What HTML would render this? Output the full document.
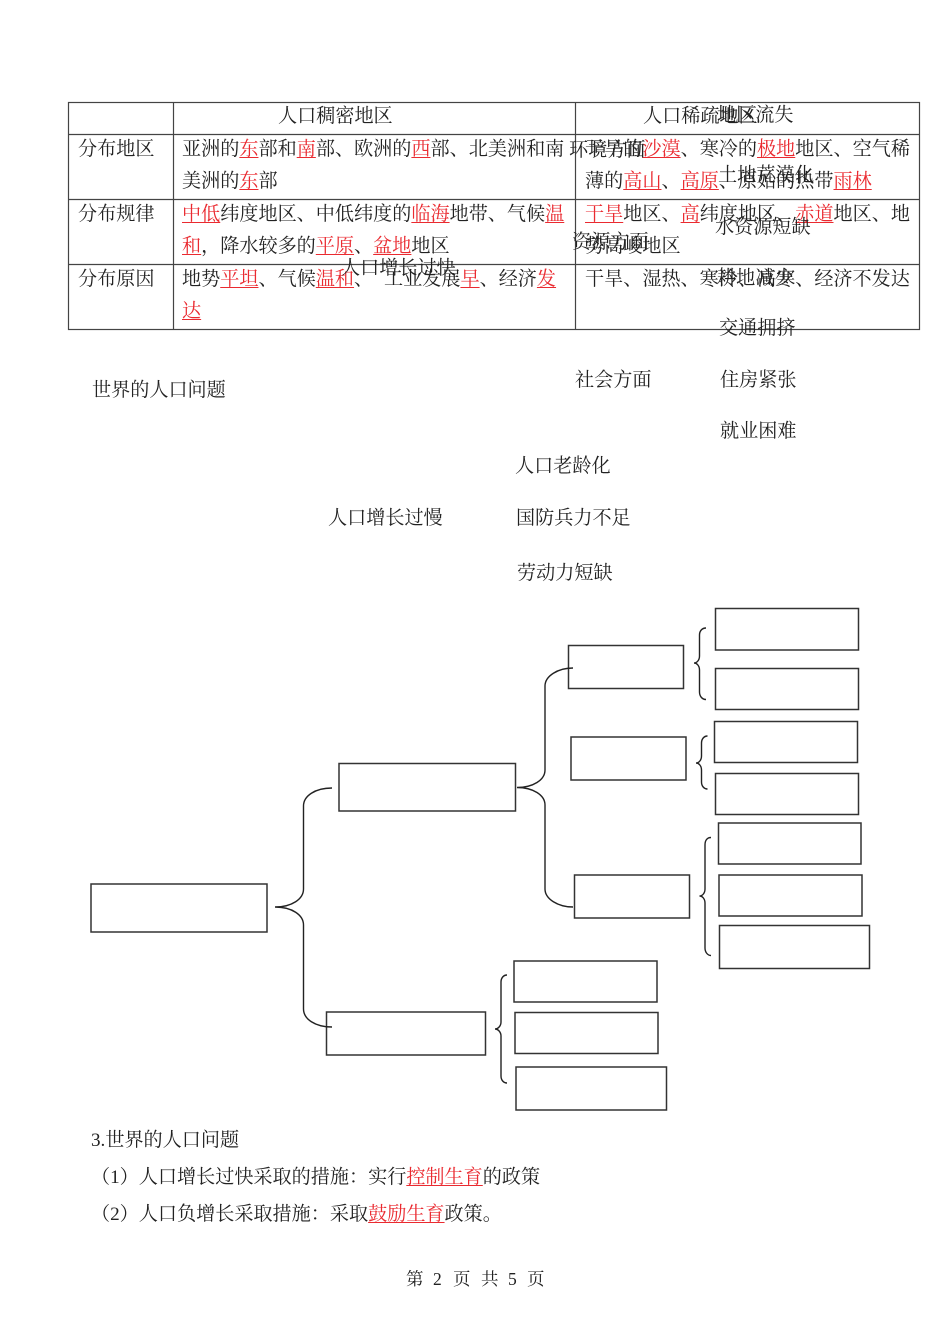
<!DOCTYPE html>
<html lang="zh"><head><meta charset="utf-8"><title>世界的人口问题</title>
<style>
html,body{margin:0;padding:0;background:#fff}
#p{position:relative;width:950px;height:1344px;overflow:hidden;background:#fff;font-family:"Liberation Serif","Noto Serif CJK SC",serif;font-size:19.12px;color:#222}
svg{position:absolute;left:0;top:0}
.t{position:absolute;white-space:pre;line-height:22px;height:22px;margin-top:2px}
.f{font-size:17.5px}
u{color:#ea2a30;text-decoration:underline;text-decoration-color:#ea2a30;text-underline-offset:2px}
</style></head><body><div id="p">
<svg width="950" height="1344" fill="none">
<g stroke="#444" stroke-width="1.2"><rect x="68.500" y="102.500" width="851" height="227"/>
<path d="M173.500 102.500V329.500M575.500 102.500V329.500M68.500 134.500H919.500M68.500 199.500H919.500M68.500 264.500H919.500"/></g>
<g stroke="#333" stroke-width="1.500" fill="#fff">
<rect x="91" y="884" width="176" height="48"/><rect x="339" y="763.500" width="176.500" height="47.500"/><rect x="326.500" y="1012" width="159" height="43"/>
<rect x="568.500" y="645.500" width="115" height="43"/><rect x="571" y="737" width="115" height="43"/><rect x="574.500" y="875" width="115" height="43"/>
<rect x="715.500" y="608.500" width="143" height="41.500"/><rect x="715.500" y="668.500" width="143" height="41"/><rect x="714.500" y="721.500" width="143" height="41"/><rect x="715.500" y="773.500" width="143" height="41"/>
<rect x="718.500" y="823" width="142.500" height="41"/><rect x="719" y="875" width="143" height="41"/><rect x="719.500" y="925.500" width="150" height="43"/>
<rect x="514" y="961" width="143" height="41"/><rect x="515" y="1012.500" width="143" height="41"/><rect x="516" y="1067" width="150.500" height="43"/>
</g>
<g stroke="#222" stroke-width="1.400">
<path d="M332 788C315 788 303.500 796 303.500 806V889C303.500 899 292 907 275 907C292 907 303.500 915 303.500 925V1009C303.500 1019 315 1027 332 1027"/>
<path d="M573 668C558 668 545 676 545 686V770C545 780 533 787.500 517 787.500C533 787.500 545 795 545 805V889C545 899 558 907 573 907"/>
<path d="M706 628C702 628 699.500 631 699.500 635V656C699.500 660 697 663 694 663C697 663 699.500 666 699.500 670V692C699.500 696 702 699.500 706 699.500"/>
<path d="M707.500 736C704 736 701.500 739 701.500 743V756C701.500 760 699 763 696 763C699 763 701.500 766 701.500 770V782C701.500 786 704 789 707.500 789"/>
<path d="M711 837.500C707.500 837.500 705 840 705 845V889C705 893 702.500 896 699.500 896C702.500 896 705 899 705 903V948C705 952 707.500 955.500 711 955.500"/>
<path d="M507 975C503.500 975 501 978 501 982V1022C501 1026 498 1029 495 1029C498 1029 501 1032 501 1036V1076C501 1080 503.500 1083 507 1083"/>
</g></svg>

<div class="t" style="left:278px;top:104px">人口稠密地区</div>
<div class="t" style="left:643px;top:104px">人口稀疏地区</div>
<div class="t" style="left:78px;top:137px">分布地区</div>
<div class="t" style="left:78px;top:202px">分布规律</div>
<div class="t" style="left:78px;top:267px">分布原因</div>

<div class="t" style="left:182px;top:137px">亚洲的<u>东</u>部和<u>南</u>部、欧洲的<u>西</u>部、北美洲和南</div>
<div class="t" style="left:182px;top:169px">美洲的<u>东</u>部</div>
<div class="t" style="left:182px;top:202px"><u>中低</u>纬度地区、中低纬度的<u>临海</u>地带、气候<u>温</u></div>
<div class="t" style="left:182px;top:234px"><u>和</u>，降水较多的<u>平原</u>、<u>盆地</u>地区</div>
<div class="t" style="left:182px;top:267px">地势<u>平坦</u>、气候<u>温和</u>、</div>
<div class="t" style="left:384px;top:267px">工业发展<u>早</u>、经济<u>发</u></div>
<div class="t" style="left:182px;top:299px"><u>达</u></div>

<div class="t" style="left:585px;top:137px">干旱的<u>沙漠</u>、寒冷的<u>极地</u>地区、空气稀</div>
<div class="t" style="left:585px;top:169px">薄的<u>高山</u>、<u>高原</u>、原始的热带<u>雨林</u></div>
<div class="t" style="left:585px;top:202px"><u>干旱</u>地区、<u>高</u>纬度地区、<u>赤道</u>地区、地</div>
<div class="t" style="left:585px;top:234px">势高峻地区</div>
<div class="t" style="left:585px;top:267px">干旱、湿热、寒冷、高寒、经济不发达</div>

<div class="t" style="left:717px;top:103px">地区流失</div>
<div class="t" style="left:569px;top:138px">环境方面</div>
<div class="t" style="left:718px;top:163px">土地荒漠化</div>
<div class="t" style="left:715px;top:215px">水资源短缺</div>
<div class="t" style="left:572px;top:230px">资源方面</div>
<div class="t" style="left:341px;top:256px">人口增长过快</div>
<div class="t" style="left:717px;top:266px">耕地减少</div>
<div class="t" style="left:719px;top:316px">交通拥挤</div>
<div class="t" style="left:575px;top:368px">社会方面</div>
<div class="t" style="left:720px;top:368px">住房紧张</div>
<div class="t" style="left:92px;top:378px">世界的人口问题</div>
<div class="t" style="left:720px;top:419px">就业困难</div>
<div class="t" style="left:515px;top:454px">人口老龄化</div>
<div class="t" style="left:328px;top:506px">人口增长过慢</div>
<div class="t" style="left:516px;top:506px">国防兵力不足</div>
<div class="t" style="left:517px;top:561px">劳动力短缺</div>

<div class="t" style="left:91px;top:1128px">3.世界的人口问题</div>
<div class="t" style="left:91px;top:1165px">（1）人口增长过快采取的措施：实行<u>控制生育</u>的政策</div>
<div class="t" style="left:91px;top:1202px">（2）人口负增长采取措施：采取<u>鼓励生育</u>政策。</div>
<div class="t f" style="left:406px;top:1266px">第</div>
<div class="t f" style="left:433px;top:1266px">2</div>
<div class="t f" style="left:453px;top:1266px">页</div>
<div class="t f" style="left:481px;top:1266px">共</div>
<div class="t f" style="left:508px;top:1266px">5</div>
<div class="t f" style="left:527px;top:1266px">页</div>
</div></body></html>
